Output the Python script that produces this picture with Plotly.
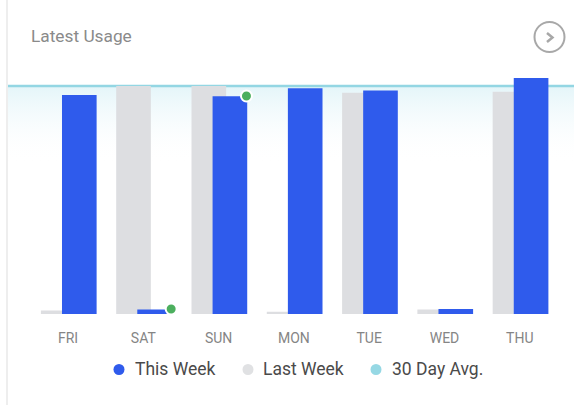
import plotly.graph_objects as go

days = ["FRI", "SAT", "SUN", "MON", "TUE", "WED", "THU"]
this_week = [96, 2, 95.5, 99, 98, 2.2, 103.5]
last_week = [1.5, 100, 100, 1, 97, 2, 97.5]
avg_30 = 100
flag_day = [1.37, 2.37]
flag_val = [2.2, 95.6]
legend_names = ["This Week", "Last Week", "30 Day Avg."]

W, H = 574, 405
L, R, T, B = 8, 0, 70, 91
pw, ph = W - L - R, H - T - B
xr = [-0.797, 6.72]
yr = [0, 107]
px = lambda v: (v - L) / pw
py = lambda v: (H - B - v) / ph
pos = list(range(len(days)))

BLUE = "#2f5bec"
GREY = "#dddee1"
CYAN = "#93d6e3"
fig = go.Figure()

fig.add_trace(go.Scatter(
    x=xr, y=[avg_30, avg_30], mode="lines", line=dict(color=CYAN, width=2.5),
    fill="tozeroy", showlegend=False, hoverinfo="skip",
    fillgradient=dict(type="vertical", start=avg_30, stop=66,
                      colorscale=[[0, "#e4f5f9"], [1, "rgba(255,255,255,0)"]]),
))
fig.add_trace(go.Bar(x=pos, y=last_week, width=0.46, offset=-0.36, marker=dict(color=GREY, line_width=0),
                     xaxis="x2", yaxis="y2", showlegend=False))
fig.add_trace(go.Bar(x=pos, y=this_week, width=0.46, offset=-0.08, marker=dict(color=BLUE, line_width=0),
                     xaxis="x2", yaxis="y2", showlegend=False))
fig.add_trace(go.Scatter(x=flag_day, y=flag_val, mode="markers", xaxis="x2", yaxis="y2", showlegend=False,
                         marker=dict(color="#4caf5e", size=11, line=dict(color="white", width=2))))

shapes = [
    dict(type="line", xref="paper", yref="paper", x0=px(7), x1=px(7), y0=py(0), y1=py(405),
         line=dict(color="#e8e8e8", width=1.5)),
    dict(type="circle", xref="paper", yref="paper", x0=px(534.5), x1=px(564.5), y0=py(22), y1=py(52),
         line=dict(color="#a8a8a8", width=2)),
    dict(type="path", xref="paper", yref="paper",
         path=f"M {px(547)} {py(33)} L {px(552.5)} {py(37.5)} L {px(547)} {py(42)}",
         line=dict(color="#a8a8a8", width=2.5)),
]
annotations = [dict(text="Latest Usage", xref="paper", yref="paper", x=px(31), y=py(36), xanchor="left",
                    xshift=-2, yanchor="middle", showarrow=False, font=dict(size=17.3, color="#8a8a8a"))]
for name, col, cx, tx in zip(legend_names, [BLUE, "#e0e1e3", "#96d8e4"], [119, 248, 376], [134, 262, 391]):
    shapes.append(dict(type="circle", xref="paper", yref="paper", x0=px(cx - 5.5), x1=px(cx + 5.5),
                       y0=py(364), y1=py(375), fillcolor=col, line_width=0))
    annotations.append(dict(text=name, xref="paper", yref="paper", x=px(tx), y=py(369), xanchor="left",
                            xshift=-1, yanchor="middle", showarrow=False, font=dict(size=17.5, color="#4a4a4a")))

fig.update_layout(
    width=W, height=H, autosize=False, margin=dict(l=L, r=R, t=T, b=B),
    paper_bgcolor="white", plot_bgcolor="rgba(0,0,0,0)", barmode="overlay",
    font=dict(family="Roboto"), showlegend=False,
    xaxis=dict(range=xr, tickmode="array", tickvals=pos, ticktext=days, showgrid=False, zeroline=False,
               showline=False, ticks="outside", ticklen=11, tickcolor="rgba(0,0,0,0)",
               tickfont=dict(size=14, color="#858585")),
    yaxis=dict(range=yr, visible=False),
    xaxis2=dict(range=xr, overlaying="x", visible=False),
    yaxis2=dict(range=yr, overlaying="y", visible=False),
    shapes=shapes,
    annotations=annotations,
)
fig.write_html("out.html", post_script="document.body.style.margin='0';", config={"displayModeBar": False})
